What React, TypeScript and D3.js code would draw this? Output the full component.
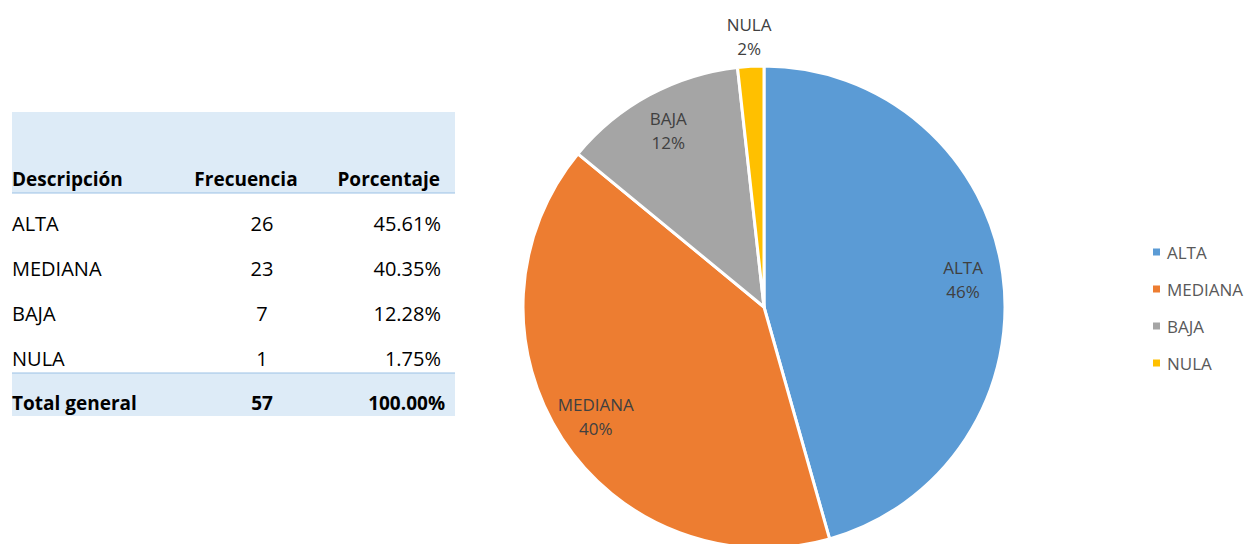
import React from "react";
import * as d3 from "d3";

const categories = ["ALTA", "MEDIANA", "BAJA", "NULA"];
const frequencies = [26, 23, 7, 1];
const percentLabels = ["45.61%", "40.35%", "12.28%", "1.75%"];
const totalLabel = "Total general";
const totalFrequency = 57;
const totalPercent = "100.00%";
const headers = ["Descripción", "Frecuencia", "Porcentaje"];
const colors = ["#5B9BD5", "#ED7D31", "#A5A5A5", "#FFC000"];

const W = 1247;
const H = 544;
const FONT = "'Open Sans', sans-serif";

export default function App() {
  const cx = 764;
  const cy = 307;
  const r = 241;
  const total = d3.sum(frequencies);
  const pie = d3
    .pie<number>()
    .sort(null)
    .value((d) => d);
  const arcs = pie(frequencies);
  const arcGen = d3.arc<d3.PieArcDatum<number>>().innerRadius(0).outerRadius(r);

  const rowY = d3
    .scaleLinear()
    .domain([0, 1])
    .range([223, 268]);

  const legendY = d3.scaleLinear().domain([0, 1]).range([252, 289]);

  return (
    <svg
      width={W}
      height={H}
      style={{ position: "absolute", left: 0, top: 0, background: "#fff" }}
      fontFamily={FONT}
    >
      {/* Table */}
      <g>
        <rect x={12} y={112} width={443} height={81} fill="#DDEBF7" />
        <line x1={12} x2={455} y1={193} y2={193} stroke="#9BC2E6" strokeWidth={1.2} />
        <rect x={12} y={373} width={443} height={43} fill="#DDEBF7" />
        <line x1={12} x2={455} y1={373} y2={373} stroke="#9BC2E6" strokeWidth={1.2} />
        <g fontSize={19} fontWeight="bold" fill="#000" dominantBaseline="central">
          <text x={12} y={179}>{headers[0]}</text>
          <text x={246} y={179} textAnchor="middle">{headers[1]}</text>
          <text x={440} y={179} textAnchor="end">{headers[2]}</text>
        </g>
        <g fontSize={20} fill="#000" dominantBaseline="central">
          {categories.map((c, i) => (
            <g key={c}>
              <text x={12} y={rowY(i)}>{c}</text>
              <text x={262} y={rowY(i)} textAnchor="middle">{frequencies[i]}</text>
              <text x={441} y={rowY(i)} textAnchor="end">{percentLabels[i]}</text>
            </g>
          ))}
        </g>
        <g fontSize={19} fontWeight="bold" fill="#000" dominantBaseline="central">
          <text x={12} y={rowY(categories.length)}>{totalLabel}</text>
          <text x={262} y={rowY(categories.length)} textAnchor="middle">{totalFrequency}</text>
          <text x={445} y={rowY(categories.length)} textAnchor="end">{totalPercent}</text>
        </g>
      </g>

      {/* Pie */}
      <g transform={`translate(${cx},${cy})`}>
        {arcs.map((a, i) => (
          <path key={i} d={arcGen(a) || ""} fill={colors[i]} stroke="#fff" strokeWidth={3} strokeLinejoin="round" />
        ))}
        {arcs.map((a, i) => {
          const frac = a.data / total;
          const mid = (a.startAngle + a.endAngle) / 2;
          const lr = frac < 0.05 ? r + 30 : 201;
          const x = Math.sin(mid) * lr;
          const y = -Math.cos(mid) * lr;
          return (
            <g key={"l" + i} fontSize={17} fill="#404040" textAnchor="middle" dominantBaseline="central">
              <text x={x} y={y - 12}>{categories[i]}</text>
              <text x={x} y={y + 12}>{d3.format(".0%")(frac)}</text>
            </g>
          );
        })}
      </g>

      {/* Legend */}
      <g>
        {categories.map((c, i) => (
          <g key={c}>
            <rect x={1153} y={legendY(i) - 3.5} width={7} height={7} fill={colors[i]} />
            <text x={1167} y={legendY(i)} fontSize={17} fill="#595959" dominantBaseline="central">
              {c}
            </text>
          </g>
        ))}
      </g>
    </svg>
  );
}
